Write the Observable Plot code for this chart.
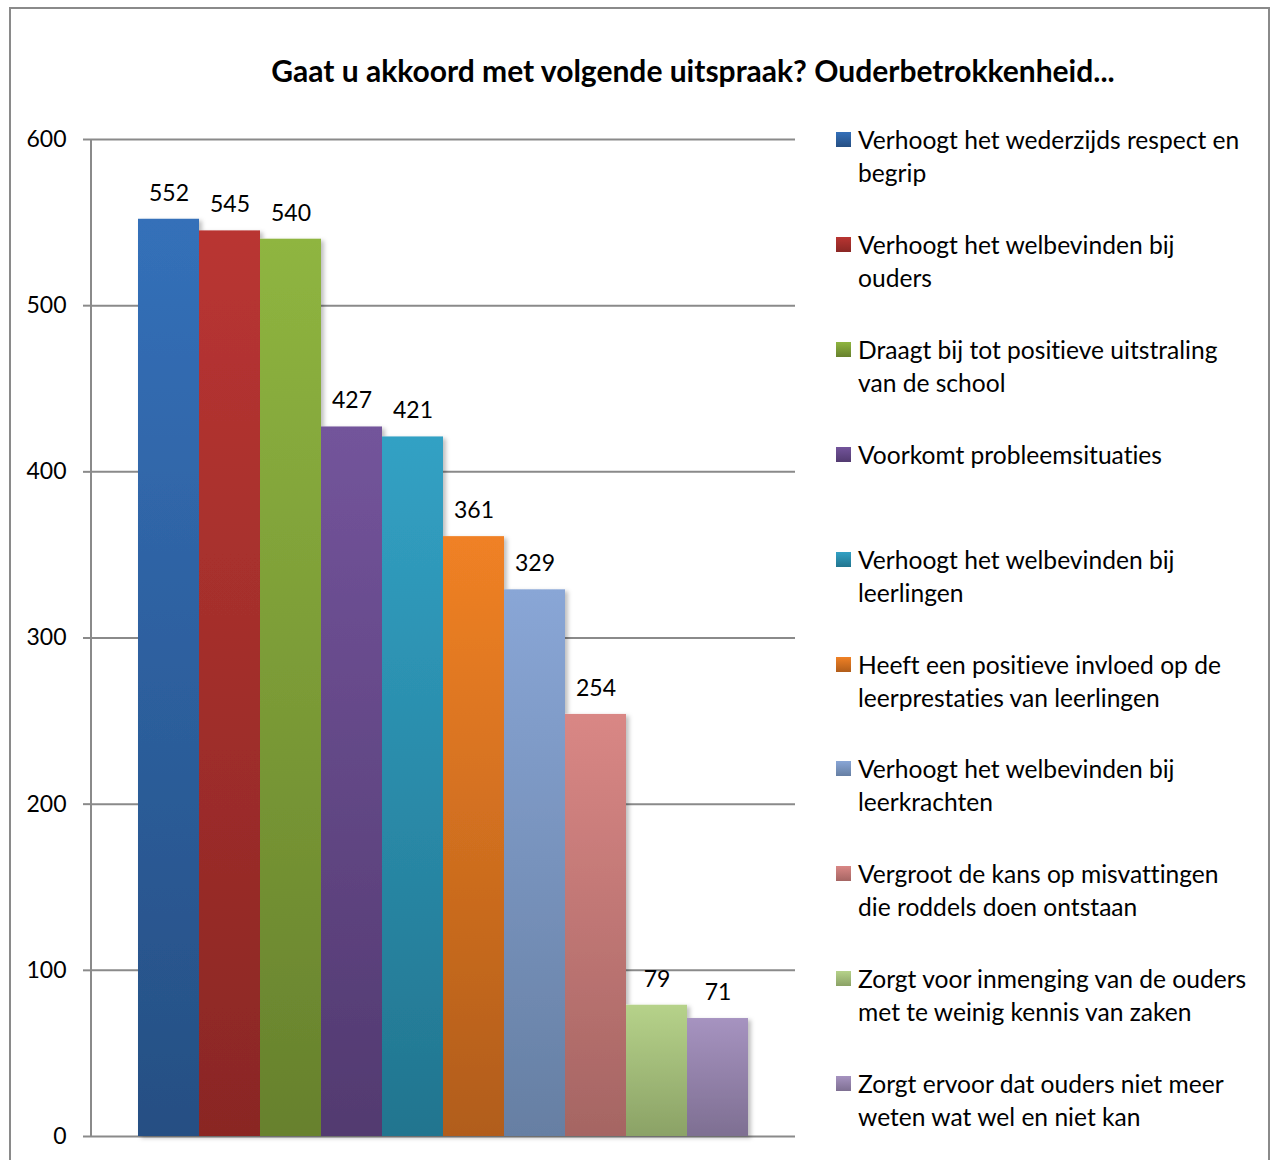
<!DOCTYPE html>
<html>
<head>
<meta charset="utf-8">
<script src="https://cdn.jsdelivr.net/npm/d3@7"></script>
<script src="https://cdn.jsdelivr.net/npm/@observablehq/plot@0.6"></script>
<style>
  html, body { margin: 0; padding: 0; background: #fff; }
  #page { position: relative; width: 1270px; height: 1160px; overflow: hidden; font-family: Lato, "Open Sans", sans-serif; color: #000; font-variant-ligatures: none; }
  #border { position: absolute; left: 9px; top: 7px; width: 1261px; height: 1200px; border: 2px solid #8a8a8a; box-sizing: border-box; }
  #title { position: absolute; left: 193px; width: 1000px; top: 50px; line-height: 40px; text-align: center; font-weight: bold; font-size: 30px; white-space: nowrap; }
  #chart { position: absolute; left: 0; top: 0; }
  #legend { position: absolute; left: 836px; top: 0; }
  .item { position: absolute; left: 0; width: 430px; }
  .sw { position: absolute; left: 0; top: 9px; width: 15px; height: 15px; }
  .lbl { position: absolute; left: 22px; font-size: 24.6px; line-height: 33px; white-space: nowrap; }
</style>
</head>
<body>
<div id="page">
  <div id="border"></div>
  <div id="title"></div>
  <div id="chart"></div>
  <div id="legend"></div>
</div>
<script>
const title = "Gaat u akkoord met volgende uitspraak? Ouderbetrokkenheid...";
const categories = [
  "Verhoogt het wederzijds respect en begrip",
  "Verhoogt het welbevinden bij ouders",
  "Draagt bij tot positieve uitstraling van de school",
  "Voorkomt probleemsituaties",
  "Verhoogt het welbevinden bij leerlingen",
  "Heeft een positieve invloed op de leerprestaties van leerlingen",
  "Verhoogt het welbevinden bij leerkrachten",
  "Vergroot de kans op misvattingen die roddels doen ontstaan",
  "Zorgt voor inmenging van de ouders met te weinig kennis van zaken",
  "Zorgt ervoor dat ouders niet meer weten wat wel en niet kan"
];
const legendLines = [
  ["Verhoogt het wederzijds respect en", "begrip"],
  ["Verhoogt het welbevinden bij", "ouders"],
  ["Draagt bij tot positieve uitstraling", "van de school"],
  ["Voorkomt probleemsituaties"],
  ["Verhoogt het welbevinden bij", "leerlingen"],
  ["Heeft een positieve invloed op de", "leerprestaties van leerlingen"],
  ["Verhoogt het welbevinden bij", "leerkrachten"],
  ["Vergroot de kans op misvattingen", "die roddels doen ontstaan"],
  ["Zorgt voor inmenging van de ouders", "met te weinig kennis van zaken"],
  ["Zorgt ervoor dat ouders niet meer", "weten wat wel en niet kan"]
];
const values = [552, 545, 540, 427, 421, 361, 329, 254, 79, 71];
const topColors = ["#3470b9", "#b93532", "#8fb540", "#73549b", "#32a1c4", "#f08125", "#89a6d6", "#d98785", "#b6d28a", "#a693c0"];
const bottomColors = ["#264f83", "#8a2724", "#67812d", "#523a70", "#22758f", "#b15d1a", "#667fa3", "#a56563", "#8ba266", "#7e6f92"];
const yTicks = [0, 100, 200, 300, 400, 500, 600];

document.getElementById("title").textContent = title;

const data = categories.map((c, i) => ({cat: c, value: values[i], fill: `url(#grad${i})`}));

function defsMark() {
  const defs = d3.create("svg:defs");
  topColors.forEach((t, i) => {
    const g = defs.append("linearGradient").attr("id", `grad${i}`).attr("x1", 0).attr("y1", 0).attr("x2", 0).attr("y2", 1);
    g.append("stop").attr("offset", "0%").attr("stop-color", t);
    g.append("stop").attr("offset", "100%").attr("stop-color", bottomColors[i]);
  });
  const f = defs.append("filter").attr("id", "shadow").attr("x", "-10%").attr("y", "-10%").attr("width", "130%").attr("height", "130%");
  f.append("feDropShadow").attr("dx", 3).attr("dy", 2).attr("stdDeviation", 2).attr("flood-color", "#000").attr("flood-opacity", 0.25);
  return defs.node();
}

function leftAxisLine(index, scales, values, dims) {
  return d3.create("svg:line")
    .attr("x1", dims.marginLeft).attr("x2", dims.marginLeft)
    .attr("y1", dims.marginTop).attr("y2", dims.height - dims.marginBottom)
    .attr("stroke", "#8a8a8a").attr("stroke-width", 2).node();
}

const plot = Plot.plot({
  width: 800,
  height: 1160,
  marginLeft: 91,
  marginRight: 5,
  marginTop: 139,
  marginBottom: 24,
  style: {fontFamily: "Lato, 'Open Sans', sans-serif", fontSize: "23px", color: "#000", background: "transparent"},
  x: {domain: categories, paddingInner: 0, paddingOuter: 0.72, axis: null},
  y: {domain: [0, 600], ticks: yTicks, label: null},
  color: {type: "identity"},
  marks: [
    defsMark,
    Plot.ruleY(yTicks, {stroke: "#8a8a8a", strokeWidth: 2}),
    Plot.axisY({ticks: yTicks, tickSize: 8, tickPadding: 17, stroke: "#8a8a8a", strokeWidth: 2, fontSize: 23, fill: "#000", label: null}),
    Plot.barY(data, {x: "cat", y: "value", fill: "fill", inset: 0}),
    leftAxisLine,
    Plot.text(data, {x: "cat", y: "value", text: d => String(d.value), dy: -26, fontSize: 23, fill: "#000"})
  ]
});
const barG = plot.querySelector('g[aria-label="bar"]');
if (barG) barG.setAttribute("filter", "url(#shadow)");
document.getElementById("chart").appendChild(plot);

const legend = document.getElementById("legend");
legendLines.forEach((lines, i) => {
  const item = document.createElement("div");
  item.className = "item";
  item.style.top = (123 + i * 104.9) + "px";
  const sw = document.createElement("div");
  sw.className = "sw";
  sw.style.background = `linear-gradient(${topColors[i]}, ${bottomColors[i]})`;
  item.appendChild(sw);
  const lbl = document.createElement("div");
  lbl.className = "lbl";
  lbl.innerHTML = lines.map(l => `<div>${l}</div>`).join("");
  item.appendChild(lbl);
  legend.appendChild(item);
});
</script>
</body>
</html>
